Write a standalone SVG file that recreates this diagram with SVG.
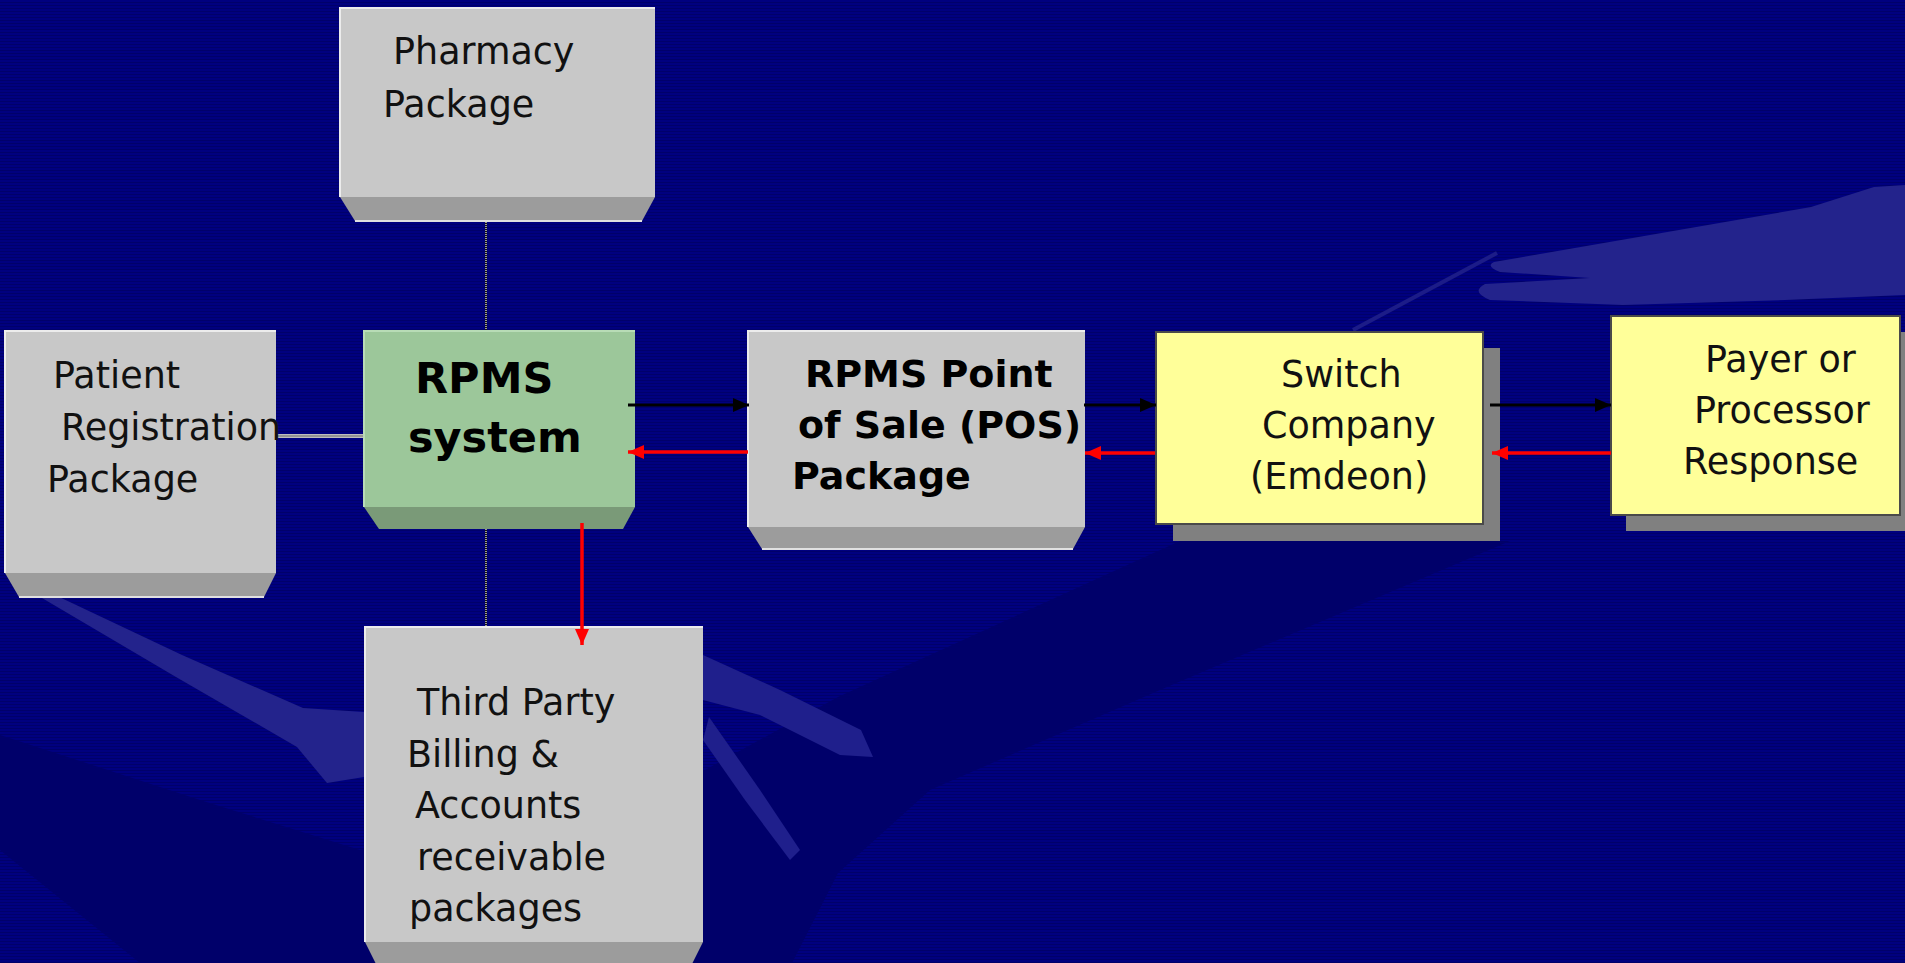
<svg xmlns="http://www.w3.org/2000/svg" width="1905" height="963" viewBox="0 0 1905 963">
<defs>
<pattern id="stripes" width="8" height="3" patternUnits="userSpaceOnUse">
<rect width="8" height="3" fill="#00007f"/>
<rect y="2" width="8" height="1" fill="#00006a"/>
</pattern>
<marker id="ab" markerUnits="userSpaceOnUse" markerWidth="18" markerHeight="16" refX="16" refY="7" orient="auto">
<path d="M0,0 L16,7 L0,14 Z" fill="#000"/>
</marker>
<marker id="ar" markerUnits="userSpaceOnUse" markerWidth="18" markerHeight="16" refX="16" refY="7" orient="auto">
<path d="M0,0 L16,7 L0,14 Z" fill="#ff0000"/>
</marker>
</defs>
<style>
.t{font-family:"DejaVu Sans",Verdana,"Liberation Sans",sans-serif;font-size:36.5px;fill:#111}
.b{font-weight:bold;fill:#000}
.gray{fill:#c8c8c8}
.grayface{fill:#9c9c9c}
.hl{stroke:#ececec;stroke-width:2;fill:none}
.yel{fill:#ffff99;stroke:#4a4a4a;stroke-width:2}
.shadow{fill:#808080}
.dot{stroke:#111;stroke-width:2;stroke-dasharray:1 1;fill:none}
.dotbg{stroke:#999999;stroke-width:2;fill:none}
.blk{stroke:#000;stroke-width:3;fill:none}
.red{stroke:#ff0000;stroke-width:3.5;fill:none}
</style>

<!-- background -->
<rect width="1905" height="963" fill="url(#stripes)"/>
<path d="M1180,541 L1510,541 L1160,690 L930,790 L838,873 L792,963 L140,963 L0,850 L0,735 L200,800 L360,850 L705,770 L838,697 Z" fill="#00006a"/>
<path d="M1494,262 L1811,207 L1874,187 L1905,185 L1905,295 L1785,300 L1623,305 L1490,300 Q1470,292 1485,284 L1590,278 L1500,272 Q1485,266 1494,262 Z" fill="#23238c"/>
<path d="M1353,330 L1497,253" stroke="#1c1c88" stroke-width="4"/>
<path d="M42,598 L55,595 L182,655 L303,708 L364,712 L364,777 L327,783 L297,747 L176,677 Z" fill="#23238c"/>
<path d="M703,655 L780,690 L861,730 L873,757 L840,755 L760,715 L703,700 Z" fill="#1f1f8c"/>
<path d="M709,717 L760,790 L800,850 L790,860 L745,800 L703,740 Z" fill="#1f1f8c"/>

<!-- connectors -->
<g id="connectors">
<line class="dotbg" x1="486" y1="197" x2="486" y2="331"/>
<line class="dot" x1="486" y1="197" x2="486" y2="331"/>
<line x1="276" y1="436" x2="364" y2="436" stroke="#bdbdbd" stroke-width="4"/>
<line x1="276" y1="436" x2="364" y2="436" stroke="#6a6a6a" stroke-width="1"/>
<line class="dotbg" x1="486" y1="510" x2="486" y2="627"/>
<line class="dot" x1="486" y1="510" x2="486" y2="627"/>
</g>

<!-- nodes -->
<g id="pharmacy">
<path class="grayface" d="M340,197 L655,197 L642,221 L355,221 Z"/>
<rect class="gray" x="340" y="8" width="315" height="189"/>
<path class="hl" d="M340,197 L340,8 L655,8"/>
<line x1="355" y1="221" x2="642" y2="221" stroke="#e0e0e0" stroke-width="2"/>
<text class="t" x="393" y="64">Pharmacy</text>
<text class="t" x="383" y="117">Package</text>
</g>

<g id="patient">
<path class="grayface" d="M5,573 L276,573 L264,597 L19,597 Z"/>
<rect class="gray" x="5" y="331" width="271" height="242"/>
<path class="hl" d="M5,573 L5,331 L276,331"/>
<line x1="19" y1="597" x2="264" y2="597" stroke="#e0e0e0" stroke-width="2"/>
<text class="t" x="53" y="388">Patient</text>
<text class="t" x="61" y="440">Registration</text>
<text class="t" x="47" y="492">Package</text>
</g>

<g id="rpms">
<path d="M364,507 L635,507 L623,529 L379,529 Z" fill="#7a9a78"/>
<rect x="364" y="331" width="271" height="176" fill="#9cc79a"/>
<path d="M364,507 L364,331 L635,331" stroke="#b8dcb6" stroke-width="2" fill="none"/>
<text class="t b" style="font-size:43px" x="415" y="393">RPMS</text>
<text class="t b" style="font-size:43px" x="408" y="452">system</text>
</g>

<g id="pos">
<path class="grayface" d="M748,527 L1085,527 L1073,549 L762,549 Z"/>
<rect class="gray" x="748" y="331" width="337" height="196"/>
<path class="hl" d="M748,527 L748,331 L1085,331"/>
<line x1="762" y1="549" x2="1073" y2="549" stroke="#e0e0e0" stroke-width="2"/>
<text class="t b" style="font-size:38px" x="805" y="387">RPMS Point</text>
<text class="t b" style="font-size:38px" x="798" y="438">of Sale (POS)</text>
<text class="t b" style="font-size:38px" x="792" y="489">Package</text>
</g>

<g id="switch">
<rect class="shadow" x="1173" y="348" width="327" height="193"/>
<rect class="yel" x="1156" y="332" width="327" height="192"/>
<text class="t" x="1281" y="387">Switch</text>
<text class="t" x="1262" y="438">Company</text>
<text class="t" x="1250" y="489">(Emdeon)</text>
</g>

<g id="payer">
<rect class="shadow" x="1626" y="332" width="279" height="199"/>
<rect class="yel" x="1611" y="316" width="289" height="199"/>
<text class="t" x="1705" y="372">Payer or</text>
<text class="t" x="1694" y="423">Processor</text>
<text class="t" x="1683" y="474">Response</text>
</g>

<g id="thirdparty">
<path class="grayface" d="M365,942 L703,942 L691,966 L377,966 Z"/>
<rect class="gray" x="365" y="627" width="338" height="315"/>
<path class="hl" d="M365,942 L365,627 L703,627"/>
<text class="t" x="417" y="715">Third Party</text>
<text class="t" x="407" y="767">Billing &amp;</text>
<text class="t" x="415" y="818">Accounts</text>
<text class="t" x="417" y="870">receivable</text>
<text class="t" x="409" y="921">packages</text>
</g>

<!-- arrows -->
<g id="arrows">
<line class="blk" x1="628" y1="405" x2="749" y2="405" marker-end="url(#ab)"/>
<line class="blk" x1="1084" y1="405" x2="1156" y2="405" marker-end="url(#ab)"/>
<line class="blk" x1="1490" y1="405" x2="1611" y2="405" marker-end="url(#ab)"/>
<line class="red" x1="748" y1="452" x2="628" y2="452" marker-end="url(#ar)"/>
<line class="red" x1="1155" y1="453" x2="1085" y2="453" marker-end="url(#ar)"/>
<line class="red" x1="1611" y1="453" x2="1492" y2="453" marker-end="url(#ar)"/>
<line class="red" x1="582" y1="523" x2="582" y2="645" marker-end="url(#ar)"/>
</g>
</svg>
